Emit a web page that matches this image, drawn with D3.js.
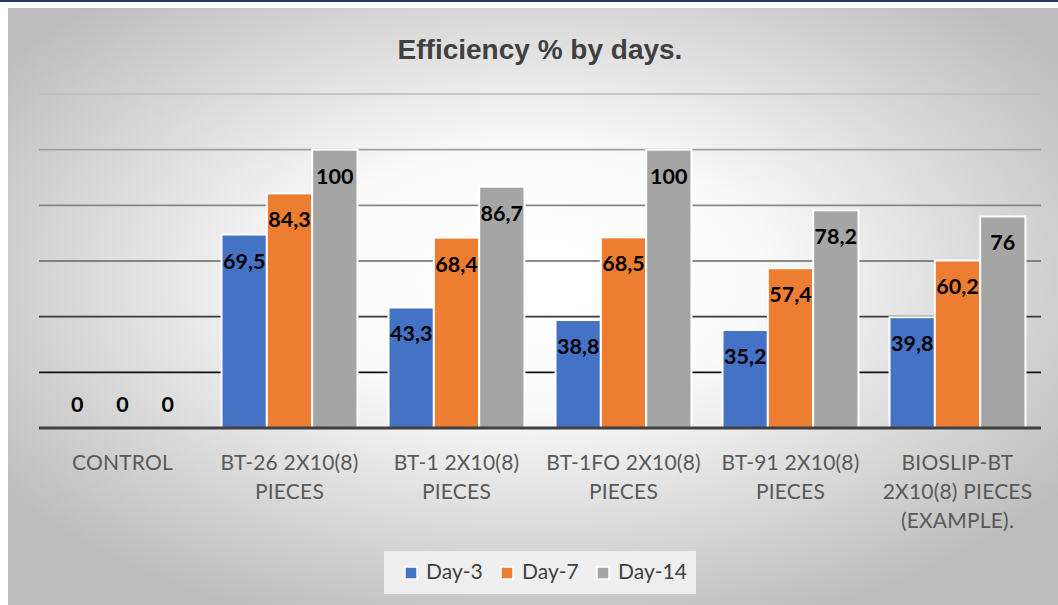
<!DOCTYPE html>
<html><head><meta charset="utf-8">
<script src="https://cdn.jsdelivr.net/npm/d3@7"></script>
<style>html,body{margin:0;padding:0;background:#fff;}svg{display:block;}</style>
</head><body>
<svg id="chart" width="1058" height="605"></svg>
<script>
const categories = ["CONTROL", "BT-26 2X10(8)\nPIECES", "BT-1 2X10(8)\nPIECES", "BT-1FO 2X10(8)\nPIECES", "BT-91 2X10(8)\nPIECES", "BIOSLIP-BT\n2X10(8) PIECES\n(EXAMPLE)."];
const seriesNames = ["Day-3", "Day-7", "Day-14"];
const day3 = [0, 69.5, 43.3, 38.8, 35.2, 39.8];
const day7 = [0, 84.3, 68.4, 68.5, 57.4, 60.2];
const day14 = [0, 100, 86.7, 100, 78.2, 76];
const yTicks = [20, 40, 60, 80, 100, 120];
const title = "Efficiency % by days.";

const colors = ["#4472c4", "#ed7d31", "#a5a5a5"];
const gridColors = {20:"#111111",40:"#3a3a3a",60:"#646464",80:"#878787",100:"#a0a0a0",120:"#bdbdbd"};
const series = [day3, day7, day14];

const svg = d3.select("#chart");
const defs = svg.append("defs");
const rg = defs.append("radialGradient").attr("id","bg").attr("cx","50%").attr("cy","45%").attr("r","62%");
rg.append("stop").attr("offset","0%").attr("stop-color","#ffffff");
rg.append("stop").attr("offset","35%").attr("stop-color","#fafafa");
rg.append("stop").attr("offset","100%").attr("stop-color","#bdbdbd");

svg.append("rect").attr("x",0).attr("y",0).attr("width",1058).attr("height",605).attr("fill","#ffffff");
svg.append("rect").attr("x",8).attr("y",8).attr("width",1050).attr("height",597).attr("fill","url(#bg)");
svg.append("rect").attr("x",0).attr("y",0).attr("width",1058).attr("height",2).attr("fill","#1f3864");

const pLeft = 39, pRight = 1041, pTop = 94, pBottom = 428;
const y = d3.scaleLinear().domain([0,120]).range([pBottom, pTop]);
const x0 = d3.scaleBand().domain(categories).range([pLeft,pRight]).paddingInner(0.186).paddingOuter(0.093);
const x1 = d3.scaleBand().domain(seriesNames).range([0, x0.bandwidth()]);

// gridlines
svg.append("g").selectAll("line").data(yTicks).join("line")
  .attr("x1",pLeft).attr("x2",pRight)
  .attr("y1",d=>y(d)).attr("y2",d=>y(d))
  .attr("stroke",d=>gridColors[d]).attr("stroke-width",1.6);

// bars
const fmt = v => String(v).replace(".", ",");
const groups = svg.append("g").selectAll("g").data(categories).join("g")
  .attr("transform", d => `translate(${x0(d)},0)`);
groups.each(function(cat, ci){
  const g = d3.select(this);
  seriesNames.forEach((s, si) => {
    const v = series[si][ci];
    if (v > 0) {
      g.append("rect")
        .attr("x", x1(s)).attr("width", x1.bandwidth())
        .attr("y", y(v)).attr("height", y(0)-y(v))
        .attr("fill", colors[si]).attr("stroke","#ffffff").attr("stroke-width",2);
    }
    g.append("text")
      .attr("x", x1(s) + x1.bandwidth()/2)
      .attr("y", v > 0 ? y(v) + 34 : y(0) - 16)
      .attr("text-anchor","middle")
      .attr("font-family","Lato, 'Open Sans', sans-serif")
      .attr("font-weight","bold").attr("font-size",21.5)
      .attr("fill","#000000")
      .text(fmt(v));
  });
});

// baseline
svg.append("line").attr("x1",pLeft).attr("x2",pRight).attr("y1",y(0)).attr("y2",y(0))
  .attr("stroke","#404040").attr("stroke-width",3);

// category labels
const catG = svg.append("g");
categories.forEach(c => {
  const t = catG.append("text")
    .attr("x", x0(c) + x0.bandwidth()/2)
    .attr("text-anchor","middle")
    .attr("font-family","Lato, 'Open Sans', sans-serif")
    .attr("font-size",21).attr("fill","#595959")
    .attr("letter-spacing","0.2");
  c.split("\n").forEach((line, i) => {
    t.append("tspan").attr("x", x0(c) + x0.bandwidth()/2).attr("y", 470 + i*29).text(line);
  });
});

// title
svg.append("text").attr("x",540).attr("y",59).attr("text-anchor","middle")
  .attr("font-family","'Liberation Sans', Arial, sans-serif").attr("font-weight","bold")
  .attr("font-size",28).attr("fill","#404040").text(title);

// legend
svg.append("rect").attr("x",384).attr("y",551).attr("width",312).attr("height",43).attr("fill","#efefef");
const legX = [405, 501, 597];
seriesNames.forEach((s, i) => {
  svg.append("rect").attr("x",legX[i]).attr("y",567).attr("width",12).attr("height",12)
    .attr("fill",colors[i]).attr("stroke","#ffffff").attr("stroke-width",1.5);
  svg.append("text").attr("x",legX[i]+21).attr("y",579)
    .attr("font-family","Lato, 'Open Sans', sans-serif").attr("font-size",21)
    .attr("fill","#404040").text(s);
});
</script>
</body></html>
